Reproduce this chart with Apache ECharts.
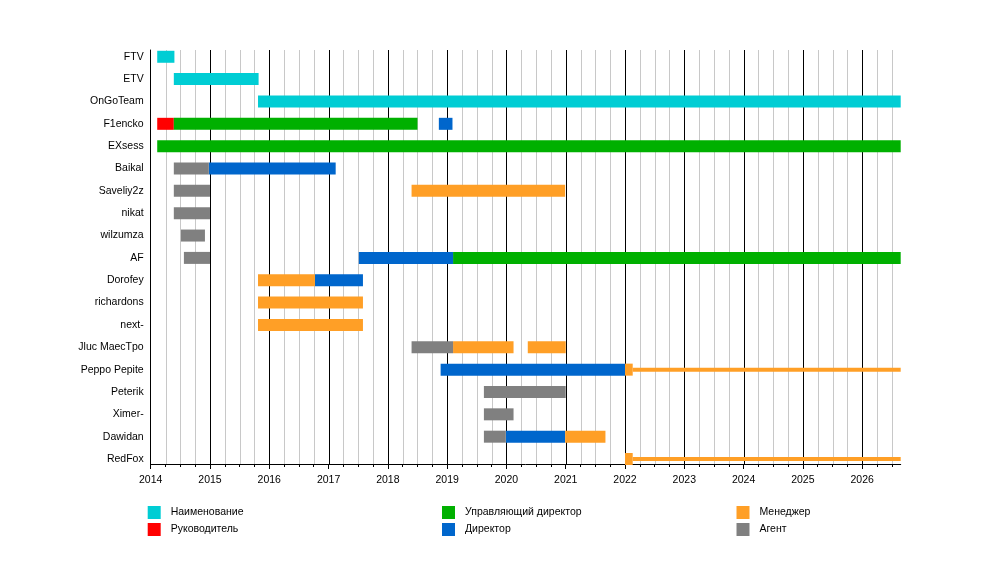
<!DOCTYPE html>
<html>
<head>
<meta charset="utf-8">
<script src="https://cdn.jsdelivr.net/npm/echarts@6/dist/echarts.min.js"></script>
<style>
html,body{margin:0;padding:0;background:#fff;}
#chart{width:1000px;height:574px;}
</style>
</head>
<body>
<div id="chart"></div>
<script>
// ---- data ----
var members = ['FTV','ETV','OnGoTeam','F1encko','EXsess','Baikal','Saveliy2z','nikat','wilzumza','AF','Dorofey','richardons','next-','Jluc MaecTpo','Peppo Pepite','Peterik','Ximer-','Dawidan','RedFox'];
var roles = ['Наименование','Руководитель','Управляющий директор','Директор','Менеджер','Агент'];
var roleColors = ['#00cdd4','#ff0000','#00b000','#0066cc','#ff9f26','#808080'];
var startYear = 2014;
var endYear = 2026.65;
var yearTicks = [2014,2015,2016,2017,2018,2019,2020,2021,2022,2023,2024,2025,2026];
// segments per role: [member, start, end]
var nameSegs = [
  ['FTV', 2014.11, 2014.40],
  ['ETV', 2014.39, 2015.82],
  ['OnGoTeam', 2015.81, 2026.65]
];
var leaderSegs = [
  ['F1encko', 2014.11, 2014.39]
];
var mdSegs = [
  ['F1encko', 2014.39, 2018.50],
  ['EXsess', 2014.11, 2026.65],
  ['AF', 2019.10, 2026.65]
];
var directorSegs = [
  ['F1encko', 2018.86, 2019.09],
  ['Baikal', 2014.98, 2017.12],
  ['AF', 2017.51, 2019.10],
  ['Dorofey', 2016.77, 2017.58],
  ['Peppo Pepite', 2018.89, 2022.00],
  ['Dawidan', 2019.99, 2020.99]
];
var managerSegs = [
  ['Saveliy2z', 2018.40, 2020.99],
  ['Dorofey', 2015.81, 2016.77],
  ['richardons', 2015.81, 2017.58],
  ['next-', 2015.81, 2017.58],
  ['Jluc MaecTpo', 2019.10, 2020.12],
  ['Jluc MaecTpo', 2020.36, 2021.00],
  ['Peppo Pepite', 2022.00, 2022.13],
  ['Dawidan', 2020.99, 2021.67],
  ['RedFox', 2022.00, 2022.13]
];
var managerThinSegs = [
  ['Peppo Pepite', 2022.13, 2026.65],
  ['RedFox', 2022.13, 2026.65]
];
var agentSegs = [
  ['Baikal', 2014.39, 2014.98],
  ['Saveliy2z', 2014.39, 2015.00],
  ['nikat', 2014.39, 2015.00],
  ['wilzumza', 2014.51, 2014.915],
  ['AF', 2014.56, 2015.00],
  ['Jluc MaecTpo', 2018.40, 2019.10],
  ['Peterik', 2019.62, 2021.00],
  ['Ximer-', 2019.62, 2020.12],
  ['Dawidan', 2019.62, 2019.99]
];

// axis tick helpers
var quarterTicks = [];
yearTicks.forEach(function(y){ [0.25,0.5,0.75].forEach(function(q){ if (y+q < endYear) quarterTicks.push(y+q); }); });

function toData(segs, thin){
  return segs.map(function(s){ return [s[1], s[2], members.indexOf(s[0]), thin ? 1 : 0]; });
}
function renderBar(params, api){
  var s = api.value(0), e = api.value(1), row = api.value(2), thin = api.value(3);
  var p0 = api.coord([s, row]);
  var p1 = api.coord([e, row]);
  var h = thin ? 4 : 12;
  return {
    type: 'rect',
    shape: { x: p0[0], y: p0[1] - h/2, width: p1[0] - p0[0], height: h },
    style: { fill: api.visual('color') }
  };
}
function renderGrid(color){
  return function(params, api){
    var x = api.coord([api.value(0), 0])[0];
    var cs = params.coordSys;
    return {
      type: 'line',
      shape: { x1: Math.round(x)+0.5, y1: cs.y, x2: Math.round(x)+0.5, y2: cs.y + cs.height },
      style: { stroke: color, lineWidth: 1 }
    };
  };
}

var roleData = [
  toData(nameSegs), toData(leaderSegs), toData(mdSegs), toData(directorSegs),
  toData(managerSegs).concat(toData(managerThinSegs, true)), toData(agentSegs)
];

var LEFT = 150.7, RIGHT = 1000 - 900.7;
var series = [
  { type: 'custom', name: 'minorGrid', xAxisIndex: 0, yAxisIndex: 0, z: 1, silent: true,
    renderItem: renderGrid('#c8c8c8'), data: quarterTicks.map(function(v){return [v];}), encode: {x: 0} },
  { type: 'custom', name: 'majorGrid', xAxisIndex: 0, yAxisIndex: 0, z: 1, silent: true,
    renderItem: renderGrid('#000000'), data: yearTicks.filter(function(v){return v > startYear;}).map(function(v){return [v];}), encode: {x: 0} }
];
roles.forEach(function(r, i){
  series.push({
    type: 'custom', name: r, xAxisIndex: 2, yAxisIndex: 1, z: 5,
    itemStyle: { color: roleColors[i] },
    renderItem: renderBar, data: roleData[i], encode: { x: [0,1], y: 2 }
  });
});

var legendBase = {
  orient: 'vertical', icon: 'rect', itemWidth: 13, itemHeight: 13, itemGap: 4,
  selectedMode: false, top: 506,
  textStyle: { fontFamily: 'Liberation Sans, Arial, sans-serif', fontSize: 10.5, color: '#000', padding: [0,0,0,5] }
};
function legendAt(left, names){
  var o = JSON.parse(JSON.stringify(legendBase));
  o.left = left; o.data = names; o.padding = 0;
  return o;
}

var option = {
  animation: false,
  backgroundColor: '#fff',
  grid: [
    { left: LEFT, right: RIGHT, top: 50, bottom: 110 },
    { left: LEFT, right: RIGHT, top: 45.6, bottom: 103.8 }
  ],
  xAxis: [
    { type: 'value', gridIndex: 0, min: startYear, max: endYear, position: 'bottom',
      axisLine: { show: true, lineStyle: { color: '#000', width: 1 } },
      axisTick: { show: true, length: 5, customValues: yearTicks, lineStyle: { color: '#000' } },
      axisLabel: { show: true, customValues: yearTicks, margin: 11, fontFamily: 'Liberation Sans, Arial, sans-serif', fontSize: 10.5, color: '#000',
                   formatter: function(v){ return String(Math.round(v)); } },
      splitLine: { show: false }
    },
    { type: 'value', gridIndex: 0, min: startYear, max: endYear, position: 'bottom', offset: 0,
      axisLine: { show: false },
      axisTick: { show: true, length: 3, customValues: quarterTicks, lineStyle: { color: '#000' } },
      axisLabel: { show: false },
      splitLine: { show: false }
    },
    { type: 'value', gridIndex: 1, min: startYear, max: endYear, show: false, splitLine: { show: false } }
  ],
  yAxis: [
    { type: 'value', gridIndex: 0, min: 0, max: 1,
      axisLine: { show: true, lineStyle: { color: '#000', width: 1 } },
      axisTick: { show: false }, axisLabel: { show: false }, splitLine: { show: false } },
    { type: 'category', gridIndex: 1, data: members, inverse: true,
      axisLine: { show: false }, axisTick: { show: false }, splitLine: { show: false },
      axisLabel: { margin: 7, fontFamily: 'Liberation Sans, Arial, sans-serif', fontSize: 10.5, color: '#000' } }
  ],
  legend: [
    legendAt(147.7, [roles[0], roles[1]]),
    legendAt(442, [roles[2], roles[3]]),
    legendAt(736.5, [roles[4], roles[5]])
  ],
  series: series
};

var chart = echarts.init(document.getElementById('chart'));
chart.setOption(option);
</script>
</body>
</html>
